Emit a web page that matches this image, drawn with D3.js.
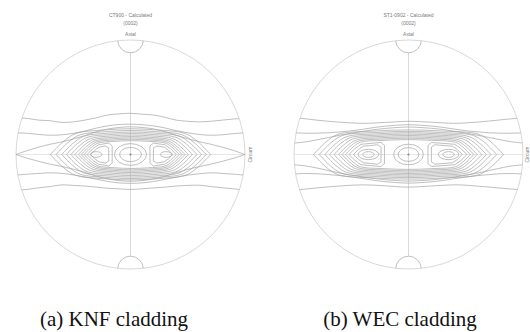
<!DOCTYPE html>
<html><head><meta charset="utf-8">
<script src="https://cdn.jsdelivr.net/npm/d3@7"></script>
<style>html,body{margin:0;padding:0;background:#fff;} svg{display:block;}</style>
</head><body>
<svg id="chart" width="530" height="332"></svg>
<script>
// ---------- text ----------
const captions = ["(a) KNF cladding", "(b) WEC cladding"];
const titles = ["CT900 - Calculated", "ST1-0902 - Calculated"];
const poleLabel = "(0002)";
const axisLabels = ["Axial", "Circum"];

// ---------- contour data (pole-figure units, -1..1, y up) ----------
// open contour lines crossing the whole figure
const knfOpen = [
  [[-1,0.32],[-0.9,0.315],[-0.8,0.30],[-0.7,0.295],[-0.6,0.28],[-0.5,0.285],[-0.4,0.30],[-0.3,0.32],[-0.2,0.345],[-0.1,0.355],[0,0.36],[0.1,0.352],[0.2,0.345],[0.3,0.325],[0.4,0.30],[0.5,0.29],[0.6,0.285],[0.7,0.29],[0.8,0.30],[0.9,0.31],[1,0.315]],
  [[-1,-0.31],[-0.9,-0.305],[-0.8,-0.29],[-0.7,-0.28],[-0.6,-0.265],[-0.5,-0.27],[-0.4,-0.275],[-0.3,-0.285],[-0.2,-0.295],[-0.1,-0.30],[0,-0.305],[0.1,-0.30],[0.2,-0.292],[0.3,-0.285],[0.4,-0.275],[0.5,-0.27],[0.6,-0.268],[0.7,-0.28],[0.8,-0.29],[0.9,-0.30],[1,-0.31]],
  [[-1,0.19],[-0.9,0.185],[-0.8,0.175],[-0.7,0.168],[-0.6,0.172],[-0.5,0.185],[-0.4,0.205],[-0.3,0.23],[-0.2,0.25],[-0.1,0.262],[0,0.265],[0.1,0.26],[0.2,0.25],[0.3,0.232],[0.4,0.208],[0.5,0.19],[0.6,0.175],[0.7,0.168],[0.8,0.172],[0.9,0.182],[1,0.19]],
  [[-1,-0.18],[-0.9,-0.172],[-0.8,-0.165],[-0.7,-0.16],[-0.6,-0.165],[-0.5,-0.178],[-0.4,-0.195],[-0.3,-0.215],[-0.2,-0.235],[-0.1,-0.248],[0,-0.252],[0.1,-0.248],[0.2,-0.236],[0.3,-0.218],[0.4,-0.198],[0.5,-0.18],[0.6,-0.168],[0.7,-0.16],[0.8,-0.165],[0.9,-0.172],[1,-0.18]],
  [[-1,0],[-0.9,0.035],[-0.8,0.065],[-0.7,0.09],[-0.6,0.11],[-0.5,0.135],[-0.4,0.165],[-0.3,0.198],[-0.2,0.222],[-0.1,0.236],[0,0.242],[0.1,0.236],[0.2,0.224],[0.3,0.2],[0.4,0.168],[0.5,0.138],[0.6,0.112],[0.7,0.09],[0.8,0.065],[0.9,0.035],[1,0]],
  [[-1,0],[-0.9,-0.033],[-0.8,-0.06],[-0.7,-0.085],[-0.6,-0.105],[-0.5,-0.128],[-0.4,-0.155],[-0.3,-0.188],[-0.2,-0.212],[-0.1,-0.228],[0,-0.234],[0.1,-0.228],[0.2,-0.214],[0.3,-0.19],[0.4,-0.158],[0.5,-0.13],[0.6,-0.106],[0.7,-0.085],[0.8,-0.06],[0.9,-0.033],[1,0]]
];
// closed lenses around all peaks: [left tip, right tip, top, bottom]
const knfLenses = [
  [-0.70, 0.70, 0.225, -0.222],
  [-0.65, 0.66, 0.21, -0.21],
  [-0.60, 0.62, 0.196, -0.197],
  [-0.56, 0.58, 0.183, -0.184],
  [-0.52, 0.54, 0.17, -0.171],
  [-0.485, 0.505, 0.157, -0.158],
  [-0.455, 0.475, 0.145, -0.146],
  [-0.43, 0.45, 0.133, -0.134],
  [-0.405, 0.425, 0.121, -0.122]
];
// side-peak shapes: [tip x, flat x, top, bottom]
const knfSides = [
  [-0.38, -0.16, 0.10, -0.10],
  [-0.35, -0.19, 0.075, -0.075],
  [0.40, 0.17, 0.10, -0.10],
  [0.37, 0.20, 0.075, -0.075]
];
// ovals: [cx, cy, rx, ry]
const knfOvals = [
  [0, 0, 0.14, 0.095],
  [0, 0, 0.095, 0.062],
  [-0.30, 0, 0.05, 0.025],
  [0.31, 0, 0.05, 0.025]
];
const knfPeaks = [[0, 0]];

const wecOpen = [
  [[-1,0.32],[-0.9,0.312],[-0.8,0.30],[-0.7,0.29],[-0.6,0.282],[-0.5,0.276],[-0.4,0.272],[-0.3,0.275],[-0.2,0.28],[-0.1,0.286],[0,0.29],[0.1,0.287],[0.2,0.282],[0.3,0.276],[0.4,0.272],[0.5,0.276],[0.6,0.283],[0.7,0.292],[0.8,0.302],[0.9,0.312],[1,0.32]],
  [[-1,-0.31],[-0.9,-0.302],[-0.8,-0.292],[-0.7,-0.283],[-0.6,-0.275],[-0.5,-0.268],[-0.4,-0.265],[-0.3,-0.268],[-0.2,-0.274],[-0.1,-0.281],[0,-0.285],[0.1,-0.281],[0.2,-0.275],[0.3,-0.269],[0.4,-0.265],[0.5,-0.268],[0.6,-0.276],[0.7,-0.284],[0.8,-0.293],[0.9,-0.302],[1,-0.31]],
  [[-1,0.19],[-0.9,0.186],[-0.8,0.186],[-0.7,0.19],[-0.6,0.197],[-0.5,0.207],[-0.4,0.22],[-0.3,0.236],[-0.2,0.248],[-0.1,0.256],[0,0.26],[0.1,0.256],[0.2,0.249],[0.3,0.237],[0.4,0.222],[0.5,0.208],[0.6,0.198],[0.7,0.19],[0.8,0.186],[0.9,0.186],[1,0.19]],
  [[-1,-0.17],[-0.9,-0.166],[-0.8,-0.168],[-0.7,-0.175],[-0.6,-0.184],[-0.5,-0.196],[-0.4,-0.21],[-0.3,-0.226],[-0.2,-0.238],[-0.1,-0.246],[0,-0.25],[0.1,-0.246],[0.2,-0.239],[0.3,-0.227],[0.4,-0.211],[0.5,-0.197],[0.6,-0.185],[0.7,-0.176],[0.8,-0.168],[0.9,-0.166],[1,-0.17]],
  [[-1,0.10],[-0.9,0.11],[-0.8,0.128],[-0.7,0.148],[-0.6,0.168],[-0.5,0.186],[-0.4,0.202],[-0.3,0.217],[-0.2,0.228],[-0.1,0.236],[0,0.24],[0.1,0.236],[0.2,0.229],[0.3,0.218],[0.4,0.203],[0.5,0.187],[0.6,0.169],[0.7,0.149],[0.8,0.129],[0.9,0.111],[1,0.10]],
  [[-1,-0.09],[-0.9,-0.10],[-0.8,-0.118],[-0.7,-0.14],[-0.6,-0.162],[-0.5,-0.18],[-0.4,-0.196],[-0.3,-0.21],[-0.2,-0.221],[-0.1,-0.228],[0,-0.232],[0.1,-0.228],[0.2,-0.222],[0.3,-0.211],[0.4,-0.197],[0.5,-0.181],[0.6,-0.163],[0.7,-0.141],[0.8,-0.119],[0.9,-0.10],[1,-0.09]]
];
const wecLenses = [
  [-0.83, 0.83, 0.215, -0.215],
  [-0.78, 0.77, 0.202, -0.202],
  [-0.73, 0.72, 0.19, -0.19],
  [-0.69, 0.68, 0.178, -0.178],
  [-0.65, 0.64, 0.166, -0.166],
  [-0.61, 0.60, 0.154, -0.154],
  [-0.58, 0.57, 0.142, -0.142],
  [-0.55, 0.54, 0.13, -0.13]
];
const wecSides = [
  [-0.52, -0.21, 0.105, -0.105],
  [-0.48, -0.24, 0.085, -0.085],
  [0.51, 0.17, 0.105, -0.105],
  [0.47, 0.20, 0.085, -0.085]
];
const wecOvals = [
  [0, 0, 0.13, 0.09],
  [0, 0, 0.09, 0.06],
  [-0.35, 0, 0.09, 0.045],
  [-0.35, 0, 0.05, 0.025],
  [0.35, 0, 0.09, 0.045],
  [0.35, 0, 0.05, 0.025]
];
const wecPeaks = [[0, 0]];

// ---------- layout ----------
const svg = d3.select("#chart");
const panels = [
  {cx:130.5, cy:154.5, r:114.5, capX:114, open:knfOpen, lenses:knfLenses, sides:knfSides, ovals:knfOvals, peaks:knfPeaks},
  {cx:408.5, cy:154.5, r:114.5, capX:400, open:wecOpen, lenses:wecLenses, sides:wecSides, ovals:wecOvals, peaks:wecPeaks}
];
const bump = 0.112;
const contourColor = "#a4a4a4";
const frameColor = "#d4d4d4";

panels.forEach((p, i) => {
  const x = d3.scaleLinear().domain([-1, 1]).range([p.cx - p.r, p.cx + p.r]);
  const y = d3.scaleLinear().domain([-1, 1]).range([p.cy + p.r, p.cy - p.r]);
  const g = svg.append("g");
  const defs = svg.append("defs");
  defs.append("clipPath").attr("id", "clip" + i)
    .append("circle").attr("cx", x(0)).attr("cy", y(0)).attr("r", p.r);

  // frame
  g.append("circle").attr("cx", x(0)).attr("cy", y(0)).attr("r", p.r)
    .attr("fill", "none").attr("stroke", frameColor).attr("stroke-width", 0.9);
  const inner = g.append("g").attr("clip-path", `url(#clip${i})`);
  inner.append("line").attr("x1", x(0)).attr("x2", x(0))
    .attr("y1", y(1 - bump)).attr("y2", y(-1 + bump))
    .attr("stroke", "#cfcfcf").attr("stroke-width", 0.8);
  inner.append("line").attr("x1", x(-1)).attr("x2", x(1))
    .attr("y1", y(0)).attr("y2", y(0))
    .attr("stroke", "#dcdcdc").attr("stroke-width", 0.7);
  [1, -1].forEach(s => {
    inner.append("circle").attr("cx", x(0)).attr("cy", y(s)).attr("r", x(bump) - x(0))
      .attr("fill", "none").attr("stroke", "#b8b8b8").attr("stroke-width", 0.9);
  });

  const cg = inner.append("g").attr("fill", "none").attr("stroke", contourColor)
    .attr("stroke-width", 0.7).attr("stroke-linejoin", "round");
  const line = d3.line().x(d => x(d[0])).y(d => y(d[1])).curve(d3.curveCatmullRom.alpha(0.5));
  const poly = d3.line().x(d => x(d[0])).y(d => y(d[1]));

  p.open.forEach(pts => cg.append("path").attr("d", line(pts)));

  p.lenses.forEach(([xl, xr, yt, yb]) => {
    [yt, yb].forEach(h => {
      const k = Math.abs(h);
      const xc = (xl + xr) / 2;
      const pts = [[xl, 0], [xl + k * 0.5, h * 0.5], [xl + k, h * 0.82], [(xl + k + xc) / 2, h * 0.95], [xc, h],
                   [(xr - k + xc) / 2, h * 0.95], [xr - k, h * 0.82], [xr - k * 0.5, h * 0.5], [xr, 0]];
      cg.append("path").attr("d", line(pts));
    });
  });

  p.sides.forEach(([xt, xf, yt, yb]) => {
    const dir = Math.sign(xf - xt);
    [yt, yb].forEach(h => {
      const k = Math.abs(h);
      const pts = [[xt, 0], [xt + dir * k * 0.5, h * 0.5], [xt + dir * k, h * 0.85], [xf - dir * 0.03, h], [xf, h * 0.75], [xf, 0]];
      cg.append("path").attr("d", poly(pts));
    });
  });

  p.ovals.forEach(([ox, oy, rx, ry]) => {
    cg.append("ellipse").attr("cx", x(ox)).attr("cy", y(oy))
      .attr("rx", x(rx) - x(0)).attr("ry", y(0) - y(ry));
  });
  p.peaks.forEach(([px, py]) => {
    g.append("circle").attr("cx", x(px)).attr("cy", y(py)).attr("r", 1.1).attr("fill", "#8a8a8a");
  });

  // labels
  const lab = g.append("g").attr("font-family", "Liberation Sans, Arial, sans-serif")
    .attr("font-size", 5).attr("fill", "#7a7a7a").attr("text-anchor", "middle");
  lab.append("text").attr("x", x(0)).attr("y", 16.5).text(titles[i]);
  lab.append("text").attr("x", x(0)).attr("y", 24.5).text(poleLabel);
  lab.append("text").attr("x", x(0)).attr("y", 36).text(axisLabels[0]);
  lab.append("text").attr("transform", `translate(${Math.min(x(1) + 6.5, 529)},${y(0)}) rotate(-90)`).text(axisLabels[1]);

  svg.append("text").attr("x", p.capX).attr("y", 326)
    .attr("font-family", "Liberation Serif, Times New Roman, serif").attr("font-size", 21)
    .attr("fill", "#111").attr("text-anchor", "middle").text(captions[i]);
});
</script>
</body></html>
